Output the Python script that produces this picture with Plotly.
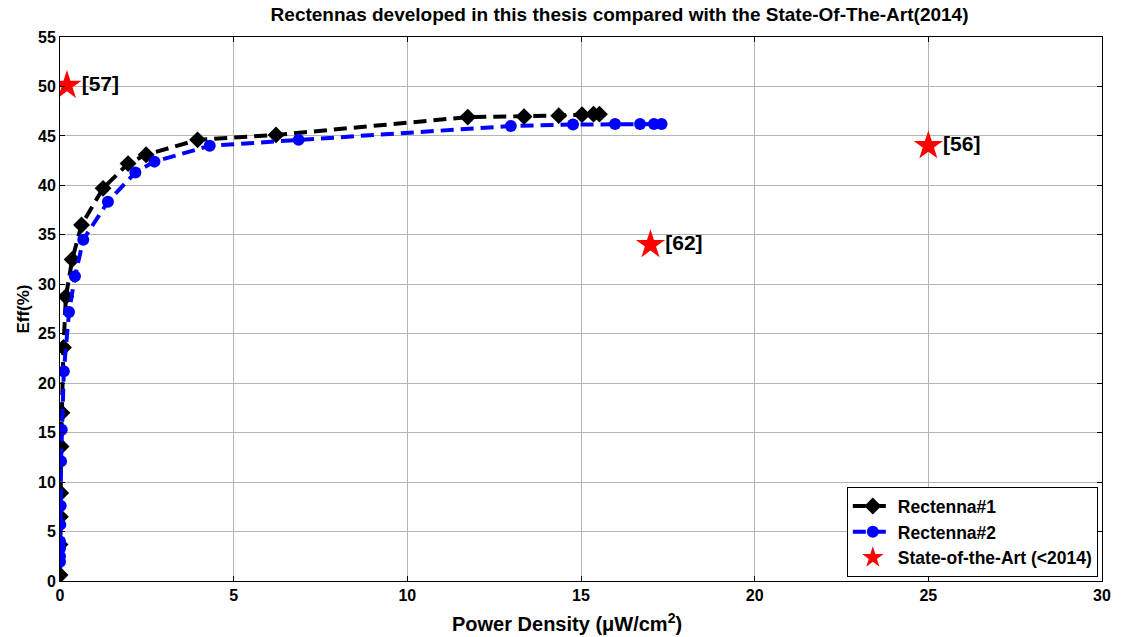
import plotly.graph_objects as go

# Rectenna#1 (black diamonds)
r1_x = [0.0, 0.0, 0.01, 0.02, 0.03, 0.05, 0.05, 0.1, 0.17, 0.35, 0.62, 1.24, 1.96, 2.48,
        3.96, 6.22, 11.74, 13.36, 14.36, 15.03, 15.36, 15.53]
r1_y = [0.6, 3.7, 6.5, 8.9, 13.6, 17.0, 17.0, 23.6, 28.75, 32.5, 36.0, 39.7, 42.2, 43.1,
        44.6, 45.1, 46.9, 46.95, 47.05, 47.15, 47.2, 47.2]

# Rectenna#2 (blue circles)
r2_x = [0.0, 0.0, 0.0, 0.0, 0.01, 0.02, 0.03, 0.05, 0.11, 0.26, 0.43, 0.67, 1.38, 2.17,
        2.72, 4.31, 6.87, 12.98, 14.77, 15.98, 16.7, 17.1, 17.32]
r2_y = [1.95, 2.5, 3.3, 4.0, 5.7, 7.6, 12.1, 15.3, 21.2, 27.2, 30.8, 34.5, 38.35, 41.3,
        42.4, 44.0, 44.6, 46.0, 46.15, 46.2, 46.2, 46.2, 46.2]

# state of the art
soa_x = [0.2, 17.0, 25.0]
soa_y = [50.1, 34.0, 44.0]
soa_ref = ['[57]', '[62]', '[56]']

bold = dict(family='Liberation Sans', color='black', weight='bold')

fig = go.Figure()

fig.add_trace(go.Scatter(
    x = r1_x, y = r1_y, mode = 'lines+markers', name = 'Rectenna#1',
    line = dict(color = 'black', width = 4, dash = '13px,7px'),
    marker = dict(symbol = 'diamond', size = 13, color = 'black')
))

fig.add_trace(go.Scatter(
    x = r2_x, y = r2_y, mode = 'lines+markers', name = 'Rectenna#2',
    line = dict(color = '#0000ff', width = 4, dash = '13px,7px'),
    marker = dict(symbol = 'circle', size = 12, color = '#0000ff')
))

fig.add_trace(go.Scatter(
    x = soa_x, y = soa_y, mode = 'markers+text', name = 'State-of-the-Art (<2014)',
    marker = dict(symbol = 'star', size = 22, color = '#ff0000', line = dict(width = 0)),
    text = soa_ref, textposition = 'middle right',
    textfont = dict(size = 21, **bold)
))

axis_common = dict(
    showgrid = True, gridcolor = '#b4b4b4', gridwidth = 1,
    showline = True, linecolor = 'black', linewidth = 1, mirror = 'ticks',
    ticks = 'inside', ticklen = 5, tickcolor = 'black',
    zeroline = False, tickfont = dict(size = 16, **bold)
)

fig.update_xaxes(range = [0, 30], dtick = 5, **axis_common)
fig.update_yaxes(range = [0, 55], dtick = 5,
                 title = dict(text = 'Eff(%)', font = dict(size = 17, **bold), standoff = 4),
                 **axis_common)

# x axis title sits a bit left of the plot centre in the original
fig.add_annotation(
    text = 'Power Density (μW/cm<sup>2</sup>)', xref = 'paper', yref = 'paper',
    x = 0.487, y = -0.0754, xanchor = 'center', yanchor = 'middle',
    showarrow = False, font = dict(size = 20, **bold)
)

# start small enough to fit inside the default 8px body margin,
# the post script below removes that margin and grows to the full window
fig.update_layout(
    width = 1107, height = 621,
    margin = dict(l = 60, r = 15, t = 37, b = 56),
    paper_bgcolor = 'white', plot_bgcolor = 'white',
    title = dict(text = 'Rectennas developed in this thesis compared with the State-Of-The-Art(2014)',
                 xref = 'paper', x = 0.537, xanchor = 'center', yref = 'container', y = 0.988, yanchor = 'top',
                 font = dict(size = 19, **bold)),
    legend = dict(x = 0.996, xanchor = 'right', y = 0.007, yanchor = 'bottom',
                  bgcolor = 'white', bordercolor = 'black', borderwidth = 1,
                  font = dict(size = 17.5, **bold), itemwidth = 40, tracegroupgap = 0),
    showlegend = True
)

post = ("document.body.style.margin = '0';"
        "Plotly.relayout('{plot_id}', {width: 1123, height: 637});")

fig.write_html("out.html", config = {'displayModeBar': False}, post_script = post)
